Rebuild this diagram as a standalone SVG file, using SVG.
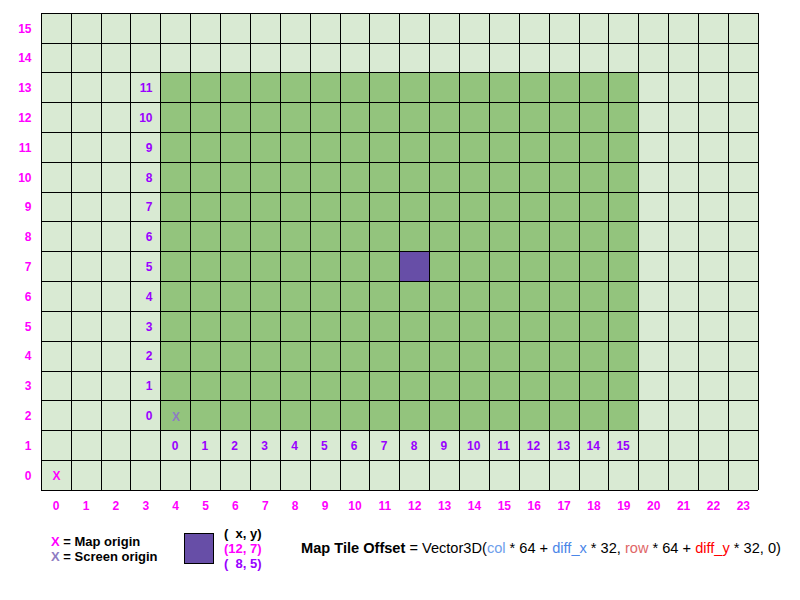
<svg xmlns="http://www.w3.org/2000/svg" width="800" height="600" viewBox="0 0 800 600">
<style>
text{font-family:"Liberation Sans",Arial,sans-serif;white-space:pre}
.lb{font-size:12px;font-weight:bold}
.mag{fill:#ff00ff}
.pur{fill:#9900ff}
.c{text-anchor:middle}
.e{text-anchor:end}
.lg{font-size:13px;font-weight:bold}
.grid{fill:none;stroke:#000;stroke-width:1;shape-rendering:crispEdges}
</style>
<rect width="800" height="600" fill="#fff"/>
<g id="map">
<rect x="41.25" y="13.25" width="717" height="477" fill="#d9ead3"/>
</g>
<g id="screen">
<rect x="160.75" y="72.88" width="478" height="357.75" fill="#93c47d"/>
</g>
<g id="tile">
<rect x="399.75" y="251.75" width="29.88" height="29.81" fill="#674ea7"/>
</g>
<g id="gridlines">
<path class="grid" d="M41.25 13.25V490.25M71.13 13.25V490.25M101 13.25V490.25M130.88 13.25V490.25M160.75 13.25V490.25M190.63 13.25V490.25M220.5 13.25V490.25M250.38 13.25V490.25M280.25 13.25V490.25M310.13 13.25V490.25M340 13.25V490.25M369.88 13.25V490.25M399.75 13.25V490.25M429.63 13.25V490.25M459.5 13.25V490.25M489.38 13.25V490.25M519.25 13.25V490.25M549.13 13.25V490.25M579 13.25V490.25M608.88 13.25V490.25M638.75 13.25V490.25M668.63 13.25V490.25M698.5 13.25V490.25M728.38 13.25V490.25M758.25 13.25V490.25M41.25 13.25H758.25M41.25 43.06H758.25M41.25 72.88H758.25M41.25 102.69H758.25M41.25 132.5H758.25M41.25 162.31H758.25M41.25 192.13H758.25M41.25 221.94H758.25M41.25 251.75H758.25M41.25 281.56H758.25M41.25 311.38H758.25M41.25 341.19H758.25M41.25 371H758.25M41.25 400.81H758.25M41.25 430.63H758.25M41.25 460.44H758.25M41.25 490.25H758.25"/>
</g>
<g id="row-labels" class="lb mag e">
<text x="31.5" y="32.5">15</text>
<text x="31.5" y="62.3">14</text>
<text x="31.5" y="92.1">13</text>
<text x="31.5" y="121.9">12</text>
<text x="31.5" y="151.7">11</text>
<text x="31.5" y="181.5">10</text>
<text x="31.5" y="211.3">9</text>
<text x="31.5" y="241.1">8</text>
<text x="31.5" y="271">7</text>
<text x="31.5" y="300.8">6</text>
<text x="31.5" y="330.6">5</text>
<text x="31.5" y="360.4">4</text>
<text x="31.5" y="390.2">3</text>
<text x="31.5" y="420">2</text>
<text x="31.5" y="449.8">1</text>
<text x="31.5" y="479.6">0</text>
</g>
<g id="col-labels" class="lb mag c">
<text x="56.19" y="510">0</text>
<text x="86.06" y="510">1</text>
<text x="115.94" y="510">2</text>
<text x="145.81" y="510">3</text>
<text x="175.69" y="510">4</text>
<text x="205.56" y="510">5</text>
<text x="235.44" y="510">6</text>
<text x="265.31" y="510">7</text>
<text x="295.19" y="510">8</text>
<text x="325.06" y="510">9</text>
<text x="354.94" y="510">10</text>
<text x="384.81" y="510">11</text>
<text x="414.69" y="510">12</text>
<text x="444.56" y="510">13</text>
<text x="474.44" y="510">14</text>
<text x="504.31" y="510">15</text>
<text x="534.19" y="510">16</text>
<text x="564.06" y="510">17</text>
<text x="593.94" y="510">18</text>
<text x="623.81" y="510">19</text>
<text x="653.69" y="510">20</text>
<text x="683.56" y="510">21</text>
<text x="713.44" y="510">22</text>
<text x="743.31" y="510">23</text>
</g>
<g id="screen-row-labels" class="lb pur e">
<text x="152.5" y="92.1">11</text>
<text x="152.5" y="121.9">10</text>
<text x="152.5" y="151.7">9</text>
<text x="152.5" y="181.5">8</text>
<text x="152.5" y="211.3">7</text>
<text x="152.5" y="241.1">6</text>
<text x="152.5" y="271">5</text>
<text x="152.5" y="300.8">4</text>
<text x="152.5" y="330.6">3</text>
<text x="152.5" y="360.4">2</text>
<text x="152.5" y="390.2">1</text>
<text x="152.5" y="420">0</text>
</g>
<g id="screen-col-labels" class="lb pur c">
<text x="175" y="449.8">0</text>
<text x="204.9" y="449.8">1</text>
<text x="234.7" y="449.8">2</text>
<text x="264.6" y="449.8">3</text>
<text x="294.5" y="449.8">4</text>
<text x="324.4" y="449.8">5</text>
<text x="354.2" y="449.8">6</text>
<text x="384.1" y="449.8">7</text>
<text x="414" y="449.8">8</text>
<text x="443.9" y="449.8">9</text>
<text x="473.7" y="449.8">10</text>
<text x="503.6" y="449.8">11</text>
<text x="533.5" y="449.8">12</text>
<text x="563.4" y="449.8">13</text>
<text x="593.2" y="449.8">14</text>
<text x="623.1" y="449.8">15</text>
</g>
<g id="origins" class="lb c">
<text x="56.5" y="480" fill="#ff00ff">X</text>
<text x="176" y="420.5" fill="#8e7cc3">X</text>
</g>
<g id="legend" class="lg">
<text x="51" y="545.7"><tspan fill="#ff00ff">X</tspan> = Map origin</text>
<text x="51" y="560.5"><tspan fill="#8e7cc3">X</tspan> = Screen origin</text>
<rect x="184.5" y="533.5" width="29" height="30" fill="#674ea7" stroke="#000" stroke-width="1"/>
<text x="224" y="537.5">(  x, y)</text>
<text x="224" y="552.5" fill="#ff00ff">(12, 7)</text>
<text x="224" y="567.5" fill="#9900ff">(  8, 5)</text>
</g>
<g id="formula">
<text x="301" y="552.5" font-size="14.6"><tspan font-weight="bold">Map Tile Offset</tspan> = Vector3D(<tspan fill="#6d9eeb">col</tspan> * 64 + <tspan fill="#4a86e8">diff_x</tspan> * 32, <tspan fill="#e06666">row</tspan> * 64 + <tspan fill="#ff0000">diff_y</tspan> * 32, 0)</text>
</g>
</svg>
